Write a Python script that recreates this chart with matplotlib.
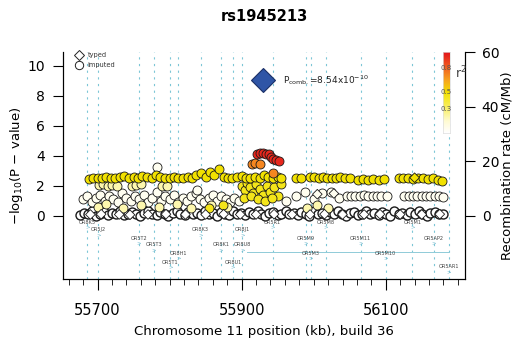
import numpy as np
import matplotlib
matplotlib.use("Agg")
import matplotlib.pyplot as plt
from matplotlib.colors import LinearSegmentedColormap

# --- data (position in kb, -log10 p) ---
snp_name = "rs1945213"
lead_pos, lead_logp = 55929, 9.07

red_x = [55921, 55926, 55930, 55934, 55938, 55941, 55944, 55947, 55952]
red_y = [4.15, 4.2, 4.2, 4.15, 4.1, 3.95, 3.8, 3.7, 3.65]
orange_x = [55914, 55919, 55925, 55944]
orange_y = [3.45, 3.5, 3.45, 2.85]

band_x = [55688, 55694, 55700, 55706, 55712, 55718, 55724, 55731, 55737, 55743,
          55750, 55756, 55762, 55768, 55775, 55781, 55787, 55793, 55800, 55806,
          55812, 55818, 55825, 55831, 55837, 55843, 55850, 55856, 55862, 55868,
          55875, 55881, 55887, 55893, 55900, 55906, 55912, 55918, 55925, 55931,
          55937, 55943, 55950, 55955,
          55975, 55983, 55995, 56001, 56007, 56013, 56019, 56025, 56031, 56037,
          56044, 56050, 56062, 56068, 56075, 56082, 56090, 56097, 56118, 56124,
          56131, 56138, 56145, 56152, 56159, 56166, 56173, 56178]
band_y = [2.45, 2.5, 2.55, 2.5, 2.6, 2.55, 2.5, 2.6, 2.65, 2.55,
          2.6, 2.5, 2.65, 2.6, 2.55, 2.7, 2.6, 2.5, 2.55, 2.6,
          2.5, 2.55, 2.6, 2.5, 2.7, 2.85, 2.6, 2.9, 2.75, 3.1,
          2.6, 2.55, 2.5, 2.6, 2.65, 2.5, 2.55, 2.6, 2.55, 2.7,
          2.6, 2.55, 2.6, 2.5,
          2.55, 2.55, 2.6, 2.6, 2.55, 2.6, 2.55, 2.5, 2.55, 2.6,
          2.5, 2.5, 2.4, 2.45, 2.4, 2.45, 2.4, 2.45, 2.5, 2.55,
          2.5, 2.45, 2.5, 2.55, 2.45, 2.5, 2.4, 2.35]

mid_x = [55900, 55905, 55908, 55912, 55916, 55920, 55925, 55930, 55935, 55940,
         55945, 55950, 55903, 55913, 55922, 55932, 55942, 55955, 55855, 55874]
mid_y = [2.0, 1.7, 2.2, 1.9, 1.5, 2.1, 1.8, 1.4, 2.0, 1.6,
         1.9, 1.3, 1.2, 1.3, 1.1, 1.0, 1.2, 2.1, 0.5, 0.7]

pale_x = [55702, 55708, 55714, 55720, 55727, 55748, 55754, 55760, 55790, 55796,
          55700, 55712, 55735, 55760, 55785, 55810, 55830, 55858, 55880, 55990,
          56005, 56020]
pale_y = [2.05, 2.1, 2.0, 2.05, 2.0, 2.0, 2.05, 2.1, 2.0, 2.0,
          0.6, 0.8, 0.5, 0.7, 0.6, 0.8, 0.55, 0.75, 0.6, 0.5,
          0.7, 0.55]

white_x = [55680, 55686, 55692, 55698, 55704, 55710, 55716, 55722, 55728, 55734,
           55740, 55746, 55752, 55758, 55764, 55770, 55776, 55782, 55788, 55794,
           55800, 55806, 55812, 55818, 55824, 55830, 55836, 55842, 55848, 55854,
           55860, 55866, 55872, 55878, 55884, 55890, 55896, 55783, 55838,
           55962, 55975, 55988, 56000, 56012, 56024, 56035,
           56046, 56052, 56058, 56064, 56070, 56076, 56082, 56088, 56094, 56102,
           56126, 56132, 56138, 56144, 56150, 56156, 56162, 56168, 56174, 56179]
white_y = [1.1, 1.3, 0.9, 1.2, 1.4, 1.0, 1.3, 1.1, 0.9, 1.5,
           1.2, 1.0, 1.3, 1.1, 1.4, 0.9, 1.2, 1.6, 1.0, 1.3,
           1.1, 1.4, 0.9, 1.2, 1.0, 1.3, 1.5, 1.1, 0.9, 1.2,
           1.4, 1.0, 1.3, 1.1, 0.9, 1.2, 1.0, 3.25, 1.7,
           1.0, 1.3, 1.6, 1.1, 1.5, 1.6, 1.2,
           1.35, 1.35, 1.3, 1.35, 1.4, 1.35, 1.3, 1.35, 1.35, 1.3,
           1.3, 1.35, 1.3, 1.35, 1.3, 1.35, 1.3, 1.35, 1.3, 1.25]

base_x = [55676, 55681, 55687, 55692, 55698, 55703, 55709, 55714, 55720, 55726,
          55731, 55737, 55742, 55748, 55754, 55759, 55765, 55770, 55776, 55782,
          55787, 55793, 55798, 55804, 55810, 55815, 55821, 55826, 55832, 55838,
          55843, 55849, 55854, 55860, 55866, 55871, 55877, 55882, 55888, 55894,
          55899, 55905, 55910, 55916, 55922, 55927, 55933, 55938, 55944, 55950,
          55955, 55961, 55966, 55972, 55978, 55983, 55989, 55994, 56000, 56006,
          56011, 56017, 56022, 56028, 56034, 56039, 56045, 56050, 56056, 56062,
          56067, 56073, 56078, 56084, 56090, 56095, 56101, 56106, 56112, 56118,
          56123, 56129, 56134, 56140, 56146, 56151, 56157, 56162, 56168, 56174, 56179]
base_y = [0.05, 0.2, 0.1, 0.3, 0.02, 0.15, 0.25, 0.05, 0.2, 0.1,
          0.3, 0.05, 0.15, 0.25, 0.1, 0.02, 0.2, 0.3, 0.1, 0.05,
          0.25, 0.15, 0.02, 0.2, 0.3, 0.1, 0.05, 0.25, 0.15, 0.2,
          0.05, 0.3, 0.1, 0.2, 0.02, 0.25, 0.15, 0.05, 0.3, 0.1,
          0.2, 0.05, 0.25, 0.15, 0.3, 0.1, 0.02, 0.2, 0.25, 0.05,
          0.15, 0.3, 0.1, 0.2, 0.05, 0.25, 0.15, 0.02, 0.3, 0.1,
          0.2, 0.05, 0.25, 0.15, 0.3, 0.1, 0.02, 0.2, 0.25, 0.05,
          0.15, 0.3, 0.1, 0.2, 0.05, 0.25, 0.15, 0.02, 0.3, 0.1,
          0.2, 0.05, 0.25, 0.15, 0.3, 0.1, 0.02, 0.2, 0.25, 0.15, 0.1]

typed_x = [55690, 55705, 55730, 55745, 55770, 55795, 55822, 55850, 55875, 55898,
           55920, 55945, 55970, 55995, 56015, 56040, 56070, 56092, 56120, 56150, 56175,
           56005, 56028, 56140]
typed_y = [0.1, 0.12, 0.1, 0.08, 0.1, 0.12, 0.1, 0.1, 0.12, 0.1,
           0.1, 0.12, 0.1, 0.1, 0.12, 0.1, 0.1, 0.12, 0.1, 0.1, 0.12,
           1.45, 1.5, 2.55]
typed_r2 = [0.0] * 21 + [0.05, 0.05, 0.5]

groups = [(base_x, base_y, 0.0), (white_x, white_y, 0.05), (pale_x, pale_y, 0.2),
          (mid_x, mid_y, 0.45), (band_x, band_y, 0.5), (orange_x, orange_y, 0.72),
          (red_x, red_y, 0.95)]

genes = ["OR8K5", "OR5J2", "OR5T2", "OR5T3", "OR8H1", "OR5T1", "OR8K3", "OR8K1",
         "OR8J1", "OR8U8", "OR8U1", "OR5R1", "OR5M9", "OR5M3", "OR5M8", "OR5M11",
         "OR5M10", "OR5M1", "OR5AP2", "OR5AR1"]
gene_pos = [55686, 55701, 55757, 55778, 55812, 55801, 55843, 55871,
            55901, 55901, 55888, 55943, 55989, 55996, 56017, 56065,
            56100, 56137, 56167, 56188]
gene_row = [-0.42, -0.9, -1.47, -1.93, -2.47, -3.07, -0.9, -1.93,
            -0.9, -1.93, -3.07, -0.42, -1.47, -2.47, -0.42, -1.47,
            -2.47, -0.42, -1.47, -3.4]
long_gene = (55908, 56188, -2.47)

xticks_major = [55700, 55900, 56100]

cmap = LinearSegmentedColormap.from_list(
    "r2", [(0, "#ffffff"), (0.15, "#fffbd0"), (0.3, "#f9f06a"), (0.5, "#f2e200"),
           (0.65, "#f7a51f"), (0.8, "#f26522"), (1.0, "#e3141b")])

fig = plt.figure(figsize=(5.18, 3.48), dpi=100)
ax = fig.add_axes([63 / 518, 1 - 279 / 348, 402 / 518, 227 / 348])
ax.set_xlim(55652, 56210)
ax.set_ylim(-4.2, 10.93)

# gene position guide lines
for p in sorted(set(gene_pos)):
    ax.axvline(p, color="#7cc6d6", lw=0.8, ls=(0, (2, 4)), zorder=1)

for gx, gy, r2 in groups:
    lw = 1.0 if r2 == 0.0 else 0.6
    ax.scatter(gx, gy, s=42, c=[cmap(r2)], edgecolors="#1a1a1a", linewidths=lw, zorder=3)
ax.scatter(typed_x, typed_y, s=24, marker="D", c=[cmap(v) for v in typed_r2],
           edgecolors="#1a1a1a", linewidths=0.6, zorder=3)

ax.plot([lead_pos], [lead_logp], marker="D", ms=12, color="#2f55a6", mec="#1a2f66", mew=0.8, zorder=4)
ax.text(lead_pos + 29, lead_logp, r"P$_{\mathrm{comb.}}$=8.54x10$^{-10}$", fontsize=6.5,
        va="center", ha="left", color="#222222")

# legend
ax.plot([55674], [10.7], marker="D", ms=5, mfc="white", mec="#222222", mew=0.7, clip_on=False)
ax.plot([55674], [10.05], marker="o", ms=6, mfc="white", mec="#222222", mew=0.7, clip_on=False)
ax.text(55686, 10.7, "typed", fontsize=4.8, va="center", color="#333333")
ax.text(55686, 10.05, "imputed", fontsize=4.8, va="center", color="#333333")

# genes
for name, p, row in zip(genes, gene_pos, gene_row):
    ax.text(p, row, name, fontsize=3.6, ha="center", va="center", color="#444444", zorder=5)
    ax.text(p, row - 0.33, ">", fontsize=4, ha="center", va="center", color="#6fb8cc", zorder=2)
ax.plot(long_gene[:2], [long_gene[2] + 0.05] * 2, color="#8fcbd8", lw=0.7, zorder=1)

ax.spines["top"].set_visible(False)
ax.set_yticks([0, 2, 4, 6, 8, 10])
ax.set_xticks(xticks_major)
ax.set_xticks(list(range(55660, 56201, 20)), minor=True)
ax.tick_params(axis="x", which="major", length=8, pad=9, labelsize=10.5)
ax.tick_params(axis="x", which="minor", length=4)
ax.tick_params(axis="y", length=7, pad=6, labelsize=10)
ax.set_xlabel("Chromosome 11 position (kb), build 36", fontsize=9.5, labelpad=5)
ax.set_ylabel(r"$-$log$_{10}$(P $-$ value)", fontsize=9.5, labelpad=2)
ax.set_title(snp_name, fontsize=10.5, fontweight="bold", pad=22)

ax2 = ax.twinx()
ax2.set_ylim(-23.05, 60)
ax2.set_yticks([0, 20, 40, 60])
ax2.spines["top"].set_visible(False)
ax2.tick_params(axis="y", length=7, pad=5, labelsize=10)
ax2.set_ylabel("Recombination rate (cM/Mb)", fontsize=9.5, labelpad=1)

# r2 colour bar
cax = fig.add_axes([443 / 518, 1 - 133 / 348, 7 / 518, 81 / 348])
grad = np.linspace(0, 1, 200).reshape(-1, 1)
cax.imshow(grad, aspect="auto", cmap=cmap, origin="lower", extent=[0, 1, 0, 1])
cax.set_xticks([]); cax.set_yticks([])
for s in cax.spines.values():
    s.set_color("#dddddd"); s.set_linewidth(0.5)
for v in [0.8, 0.5, 0.3]:
    cax.text(0.5, v, str(v), fontsize=5, ha="center", va="center", color="#555555")
fig.text(455 / 518, 1 - 78 / 348, r"r$^2$", fontsize=9, color="#444444")

fig.savefig("out.png", dpi=100)
